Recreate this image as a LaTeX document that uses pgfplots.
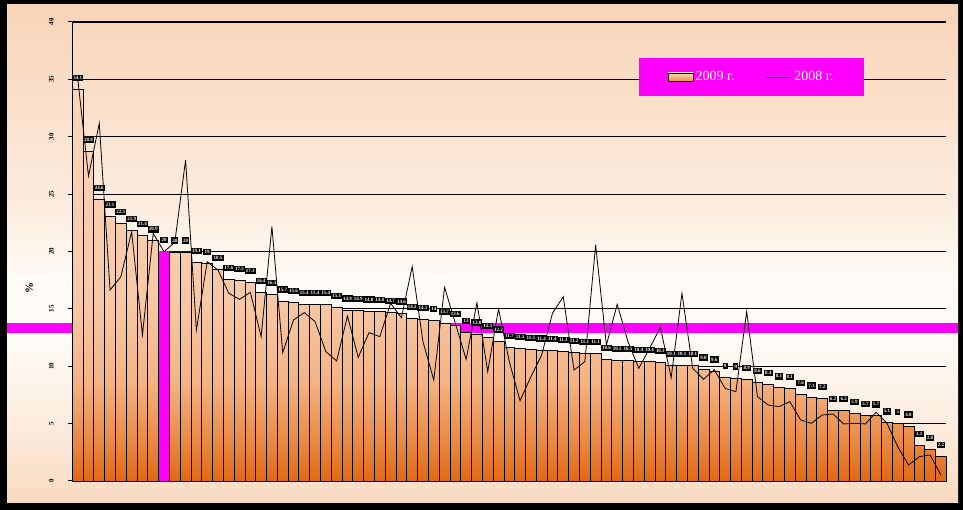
\documentclass[border=0pt]{standalone}
\usepackage{fontspec}
\setmainfont{Liberation Serif}
\usepackage{pgfplots}
\usepackage{pgfplotstable}
\pgfplotsset{compat=1.18}

\definecolor{mag}{RGB}{255,0,255}
\definecolor{bgA}{RGB}{249,218,192}
\definecolor{bgB}{RGB}{252,236,222}
\definecolor{bgC}{RGB}{255,252,248}
\definecolor{bgD}{RGB}{248,212,184}
\definecolor{barA}{RGB}{224,104,18}
\definecolor{barB}{RGB}{236,145,80}
\definecolor{barC}{RGB}{243,180,132}
\definecolor{barD}{RGB}{247,200,165}
\definecolor{barE}{RGB}{250,214,186}

% stops 25bp..75bp cover the path's bounding box
\pgfdeclareverticalshading{bgshade}{100bp}{color(0bp)=(bgA); color(25bp)=(bgA); color(33bp)=(bgB); color(42bp)=(bgC); color(47bp)=(bgC); color(55bp)=(bgB); color(75bp)=(bgD); color(100bp)=(bgD)}
\pgfdeclareverticalshading{barshade}{100bp}{color(0bp)=(barA); color(25bp)=(barA); color(31.5bp)=(barB); color(38bp)=(barC); color(48bp)=(barD); color(75bp)=(barE); color(100bp)=(barE)}

% k = bar index, v09 = 2009 bars, v08 = 2008 line; last row only closes the steps
\pgfplotstableread{
k v09 v08
0 34.13 35.09
1 28.76 26.58
2 24.55 31.17
3 23.09 16.64
4 22.46 17.80
5 21.85 21.73
6 21.41 12.72
7 20.94 21.58
8 20.02 19.98
9 19.96 20.80
10 19.96 27.97
11 19.06 13.16
12 18.97 19.11
13 18.45 18.39
14 17.58 16.36
15 17.46 15.83
16 17.32 16.44
17 16.44 12.58
18 16.27 22.16
19 15.69 11.18
20 15.57 14.03
21 15.40 14.67
22 15.40 13.89
23 15.40 11.27
24 15.14 10.46
25 14.90 14.38
26 14.87 10.78
27 14.81 12.93
28 14.78 12.58
29 14.67 15.48
30 14.64 14.23
31 14.18 18.68
32 14.09 12.14
33 14.00 8.80
34 13.74 16.88
35 13.57 13.74
36 12.98 10.60
37 12.81 15.54
38 12.52 9.53
39 12.20 15.00
40 11.65 10.40
41 11.53 7.00
42 11.48 9.09
43 11.42 10.98
44 11.39 14.61
45 11.30 16.06
46 11.22 9.67
47 11.13 10.40
48 11.13 20.57
49 10.60 11.85
50 10.49 15.40
51 10.49 12.14
52 10.43 9.82
53 10.43 11.56
54 10.34 13.39
55 10.08 9.00
56 10.08 16.36
57 10.08 9.82
58 9.76 8.86
59 9.59 9.70
60 9.04 8.07
61 8.98 7.78
62 8.86 14.76
63 8.60 7.35
64 8.43 6.62
65 8.13 6.48
66 8.07 6.91
67 7.55 5.32
68 7.32 5.03
69 7.21 5.75
70 6.16 5.84
71 6.16 4.97
72 5.90 5.03
73 5.72 4.97
74 5.69 5.99
75 5.08 5.03
76 5.03 2.99
77 4.79 1.39
78 3.11 2.12
79 2.76 2.27
80 2.15 0.52
81 2.15 nan
}\bars

\begin{document}
\begin{tikzpicture}
\fill[black] (0,0) rectangle (963bp,510bp);
\shade[shading=bgshade] (7bp,7bp) rectangle (958bp,505bp);
\begin{axis}[
  at={(72.3bp,29bp)}, anchor=south west,
  scale only axis, width=874bp, height=459bp,
  xmin=0, xmax=81, ymin=0, ymax=40,
  clip=false,
  axis x line*=bottom, axis y line*=left,
  axis line style={black, line width=1.2bp},
  xtick=\empty,
  ytick={0,5,...,40},
  ymajorgrids, grid style={black, line width=1.2bp},
  tick align=outside, major tick length=4bp,
  tick style={black, line width=1bp},
  /pgf/number format/assume math mode=true,
  yticklabel style={xshift=-11bp, rotate=90, anchor=south, font=\fontsize{7}{7}\selectfont\bfseries},
  ylabel={\%},
  every axis y label/.style={at={(rel axis cs:0,0.42)}, xshift=-43bp, rotate=90, anchor=center, font=\fontsize{11}{11}\selectfont\bfseries},
  legend columns=2,
  legend cell align=left,
  legend style={at={(rel axis cs:0.648,0.923)}, anchor=north west,
    fill=mag, draw=none, text=white,
    font=\fontsize{14}{14}\selectfont,
    inner xsep=29bp, inner ysep=12bp,
    /tikz/every even column/.append style={column sep=30bp}},
]
% magenta reference band across the whole panel
\addplot[fill=mag, draw=none, forget plot]
  coordinates {(-6.05,12.87) (82.09,12.87) (82.09,13.80) (-6.05,13.80)} -- cycle;

% 2009 bars: one stepped area so the gradient runs over the whole chart
\addplot[const plot mark left, draw=none, shade, shading=barshade,
  legend image code/.code={\draw[draw=black, line width=0.8bp, top color=barE, bottom color=barB] (0bp,-4bp) rectangle (25bp,4bp);}]
  table[x=k, y=v09] {\bars} \closedcycle;
\addlegendentry{2009 г.}

\addplot[ybar interval, draw=black, fill=none, line width=0.8bp, forget plot]
  table[x=k, y=v09] {\bars};
\addplot[ybar interval, fill=mag, draw=none, forget plot]
  coordinates {(8,20.02) (9,20.02)};

% 2008
\addplot[black, line width=0.8bp, mark=none, skip coords between index={81}{82},
  legend image code/.code={\draw[black, line width=0.8bp] (0bp,0bp) -- (25bp,0bp);}]
  table[x expr=\thisrow{k}+0.5, y=v08] {\bars};
\addlegendentry{2008 г.}

% value labels
\addplot[draw=none, mark=none, forget plot, skip coords between index={81}{82},
  nodes near coords,
  /pgf/number format/fixed, /pgf/number format/precision=1,
  every node near coord/.append style={fill=black, text=white, inner xsep=1.2bp, inner ysep=1.5bp, yshift=8bp, font=\fontsize{5}{5}\selectfont\bfseries}]
  table[x expr=\thisrow{k}+0.5, y=v09] {\bars};
\end{axis}
\end{tikzpicture}
\end{document}
